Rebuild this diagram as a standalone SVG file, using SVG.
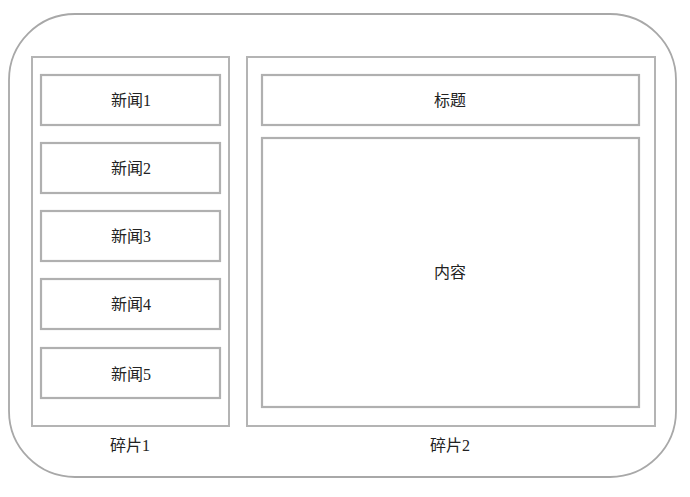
<svg xmlns="http://www.w3.org/2000/svg" width="690" height="497" viewBox="0 0 690 497">
<style>
.outer{fill:#fff;stroke:#a8a8a8;stroke-width:1.8}
.panel{fill:none;stroke:#b4b4b4;stroke-width:2}
.box{fill:#fff;stroke:#b0b0b0;stroke-width:2.2}
text{font-family:"Liberation Serif","Noto Sans CJK SC",serif;font-size:16px;fill:#222;text-anchor:middle;dominant-baseline:central}
</style>
<rect width="690" height="497" fill="#fff"/>
<g id="screen"><rect class="outer" x="9" y="14" width="667" height="463" rx="66" ry="66"/></g>
<g id="fragment1">
<rect class="panel" x="32" y="57" width="197" height="369"/>
<text x="130" y="445">碎片1</text>
</g>
<g id="fragment2">
<rect class="panel" x="247" y="57" width="408" height="369"/>
<text x="450" y="445">碎片2</text>
</g>
<g id="news1"><rect class="box" x="41" y="75" width="179" height="50"/><text x="131" y="100">新闻1</text></g>
<g id="news2"><rect class="box" x="41" y="143" width="179" height="50"/><text x="131" y="168">新闻2</text></g>
<g id="news3"><rect class="box" x="41" y="211" width="179" height="50"/><text x="131" y="236">新闻3</text></g>
<g id="news4"><rect class="box" x="41" y="279" width="179" height="50"/><text x="131" y="304">新闻4</text></g>
<g id="news5"><rect class="box" x="41" y="348" width="179" height="50"/><text x="131" y="374">新闻5</text></g>
<g id="title"><rect class="box" x="262" y="75" width="377" height="50"/><text x="450" y="100">标题</text></g>
<g id="content"><rect class="box" x="262" y="138" width="377" height="269"/><text x="450" y="272">内容</text></g>
<g id="connectors"></g>
</svg>
